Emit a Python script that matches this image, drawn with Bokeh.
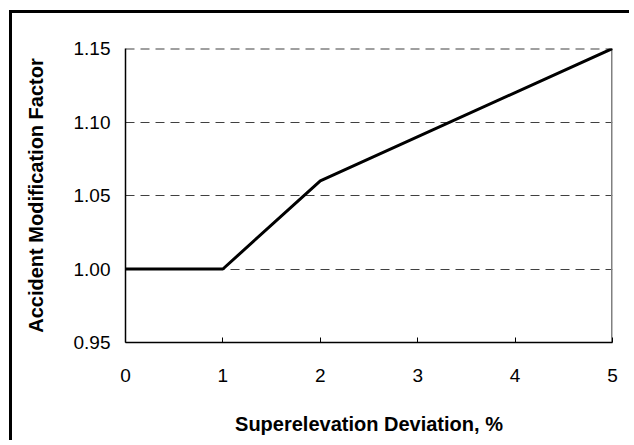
from bokeh.plotting import figure
from bokeh.models import FixedTicker, Range1d, PrintfTickFormatter
from bokeh.embed import file_html
from bokeh.resources import INLINE

# Data
deviation = [0, 1, 2, 5]
amf = [1.00, 1.00, 1.06, 1.15]
x_ticks = [0, 1, 2, 3, 4, 5]
y_ticks = [0.95, 1.00, 1.05, 1.10, 1.15]
grid_levels = [1.00, 1.05, 1.10, 1.15]
x_title = "Superelevation Deviation, %"
y_title = "Accident Modification Factor"
x_min, x_max = 0, 5
y_min, y_max = 0.95, 1.15

FONT = "Liberation Sans"

p = figure(width=620, height=430,
           x_range=Range1d(x_min, x_max), y_range=Range1d(y_min, y_max),
           output_backend="svg", toolbar_location=None,
           min_border_left=113, min_border_right=20,
           min_border_top=35, min_border_bottom=101)
p.styles = {"border-left": "3px solid black", "border-top": "3px solid black",
            "margin-left": "9px", "margin-top": "10px"}
p.background_fill_color = "white"
p.border_fill_color = "white"
p.outline_line_color = None

# grid
p.xgrid.visible = False
p.ygrid.ticker = FixedTicker(ticks=grid_levels)
p.ygrid.grid_line_color = "#404040"
p.ygrid.grid_line_width = 1
p.ygrid.grid_line_dash = "9 6"

# top gridline sits on the frame edge: draw it so it is not clipped away
p.line([x_min, x_max], [grid_levels[-1], grid_levels[-1]], line_color="#404040",
       line_width=2, line_dash="9 6")

# right border of plot area (plot-area frame edge)
p.line([x_max, x_max], [y_min, y_max], line_color="#808080", line_width=3)

# data line
p.line(deviation, amf, line_color="black", line_width=3)

# axes
xa = p.xaxis[0]
xa.ticker = FixedTicker(ticks=x_ticks)
xa.axis_label = x_title
xa.axis_label_text_font = FONT
xa.axis_label_text_font_style = "bold"
xa.axis_label_text_font_size = "20px"
xa.axis_label_text_color = "black"
xa.axis_label_standoff = 28
xa.major_label_text_font = FONT
xa.major_label_text_font_size = "19px"
xa.major_label_text_color = "black"
xa.major_label_standoff = 26
xa.major_tick_in = 5
xa.major_tick_out = 0
xa.minor_tick_in = 0
xa.minor_tick_out = 0
xa.axis_line_color = "black"
xa.axis_line_width = 1.5
xa.major_tick_line_color = "black"

ya = p.yaxis[0]
ya.ticker = FixedTicker(ticks=y_ticks)
ya.formatter = PrintfTickFormatter(format="%.2f")
ya.axis_label = y_title
ya.axis_label_text_font = FONT
ya.axis_label_text_font_style = "bold"
ya.axis_label_text_font_size = "20px"
ya.axis_label_text_color = "black"
ya.axis_label_standoff = 24
ya.major_label_text_font = FONT
ya.major_label_text_font_size = "19px"
ya.major_label_text_color = "black"
ya.major_label_standoff = 15
ya.major_tick_in = 0
ya.major_tick_out = 0
ya.minor_tick_in = 0
ya.minor_tick_out = 0
ya.axis_line_color = "black"
ya.axis_line_width = 1.5

open("out.html", "w").write(file_html(p, INLINE))
